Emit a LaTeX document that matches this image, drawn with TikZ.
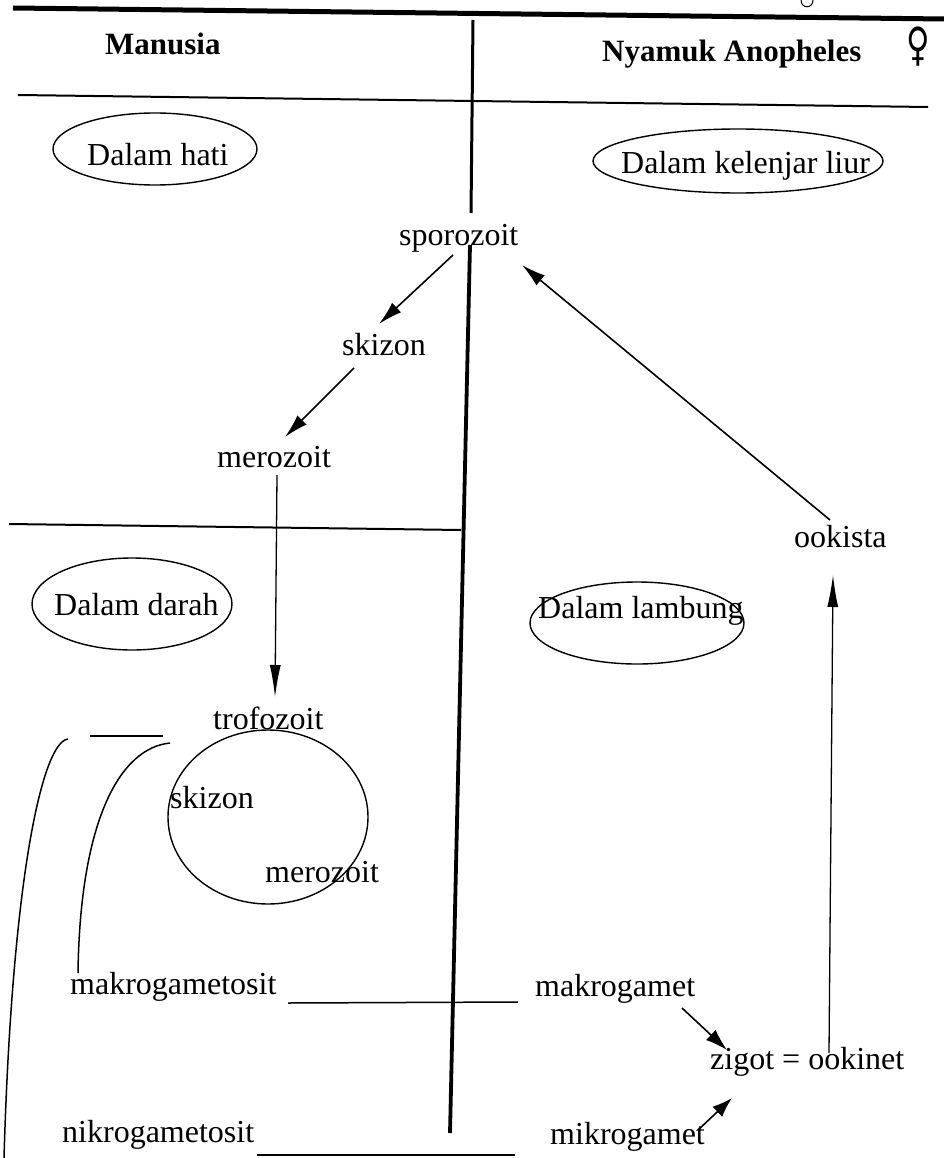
\documentclass[tikz,border=0pt]{standalone}
\usepackage{fontspec}
\setmainfont{Liberation Serif}
\newfontfamily\symfont{DejaVu Sans}
\usetikzlibrary{arrows.meta,shapes.geometric}
\begin{document}
\begin{tikzpicture}[x=1pt,y=-1pt,
  lbl/.style={anchor=base west, inner sep=0pt, font=\fontsize{32}{36}\selectfont},
  hdr/.style={anchor=base west, inner sep=0pt, font=\fontsize{31}{36}\selectfont\bfseries},
  ell/.style={ellipse, draw, line width=1.4pt, inner sep=0pt},
  ln/.style={line width=1.5pt},
  sep/.style={line width=2pt},
  arr/.style={line width=1.6pt, -{Latex[length=24pt,width=13pt]}},
  varr/.style={line width=1.3pt, -{Latex[length=32pt,width=11pt]}}]
\useasboundingbox (0,0) rectangle (944,1158);
% frame lines
\coordinate (topL) at (13,8);
\coordinate (topR) at (944,19);
\draw[line width=5pt] (topL) -- (topR);
\coordinate (hdrL) at (18,95);
\coordinate (hdrR) at (928,107);
\draw[sep] (hdrL) -- (hdrR);
\coordinate (vt1) at (473,20);
\coordinate (vt2) at (471,213);
\draw[line width=3pt] (vt1) -- (vt2);
\coordinate (vm1) at (470,245);
\coordinate (vm2) at (450,1133);
\draw[line width=3.8pt] (vm1) -- (vm2);
\coordinate (midL) at (9,524);
\coordinate (midR) at (461,530);
\draw[sep] (midL) -- (midR);
% small mark at top
\coordinate (mk1) at (801,0);
\coordinate (mk2) at (813,0);
\draw[line width=1pt] (mk1) .. controls (801,9) and (813,9) .. (mk2);
% headers
\node[hdr] (manusia) at (105,55) {Manusia};
\node[hdr] (nyamuk) at (602,62) {Nyamuk Anopheles};
\node[inner sep=0pt, font=\symfont\fontsize{46}{48}\selectfont] (female) at (918,47) {\scalebox{0.7}[1]{♀}};
% ellipses
\node[ell, minimum width=204pt, minimum height=72pt] (ehati) at (155,149) {};
\node[ell, minimum width=290pt, minimum height=64pt] (eliur) at (738,161) {};
\node[ell, minimum width=200pt, minimum height=92pt] (edarah) at (132,604) {};
\node[ell, minimum width=214pt, minimum height=82pt] (elamb) at (637,623) {};
\node[lbl] (thati) at (87,166) {Dalam hati};
\node[lbl] (tliur) at (621,174) {Dalam kelenjar liur};
\node[lbl] (tdarah) at (54,615) {Dalam darah};
\node[lbl] (tlamb) at (538,618) {Dalam lambung};
% stages
\node[lbl] (spor) at (399,246) {sporozoit};
\node[lbl] (skiz1) at (342,355) {skizon};
\node[lbl] (mero1) at (217,467) {merozoit};
\node[lbl] (ook) at (794,547) {ookista};
\node[lbl] (trof) at (213,729) {trofozoit};
\node[lbl] (skiz2) at (170,808) {skizon};
\node[lbl] (mero2) at (265,882) {merozoit};
\node[lbl] (makrot) at (70,994) {makrogametosit};
\node[lbl] (nikrot) at (62,1142) {nikrogametosit};
\node[lbl] (makro) at (535,996) {makrogamet};
\node[lbl] (zigot) at (710,1069) {zigot = ookinet};
\node[lbl] (mikro) at (550,1144) {mikrogamet};
% blood cycle ellipse
\node[ell, minimum width=200pt, minimum height=174pt] (cycle) at (268,817) {};
% arrows
\coordinate (a1s) at (453,255); \coordinate (a1e) at (379,324);
\draw[arr] (a1s) -- (a1e);
\coordinate (a2s) at (354,368); \coordinate (a2e) at (285,437);
\draw[arr] (a2s) -- (a2e);
\coordinate (a3s) at (277,475); \coordinate (a3e) at (275,697);
\draw[varr] (a3s) -- (a3e);
\coordinate (a4s) at (830,520); \coordinate (a4e) at (522,265);
\draw[arr] (a4s) -- (a4e);
\coordinate (a5s) at (829,1053); \coordinate (a5e) at (833,575);
\draw[varr] (a5s) -- (a5e);
\coordinate (a6s) at (682,1008); \coordinate (a6e) at (727,1050);
\draw[arr,-{Latex[length=22pt,width=14pt]}] (a6s) -- (a6e);
\coordinate (a7s) at (698,1130); \coordinate (a7e) at (732,1098);
\draw[arr,-{Latex[length=20pt,width=14pt]}] (a7s) -- (a7e);
% gametocyte lines
\coordinate (g1s) at (288,1003); \coordinate (g1e) at (518,1002);
\draw[ln] (g1s) -- (g1e);
\coordinate (g2s) at (257,1155); \coordinate (g2e) at (515,1155);
\draw[ln] (g2s) -- (g2e);
% left curves
\coordinate (c1s) at (68,739); \coordinate (c1e) at (4,1158);
\draw[ln] (c1s) .. controls (42,742) and (12,880) .. (c1e);
\coordinate (c2s) at (170,743); \coordinate (c2e) at (78,973);
\draw[ln] (c2s) .. controls (120,748) and (80,820) .. (c2e);
\coordinate (c3s) at (90,736); \coordinate (c3e) at (163,736);
\draw[ln] (c3s) -- (c3e);
\end{tikzpicture}
\end{document}
